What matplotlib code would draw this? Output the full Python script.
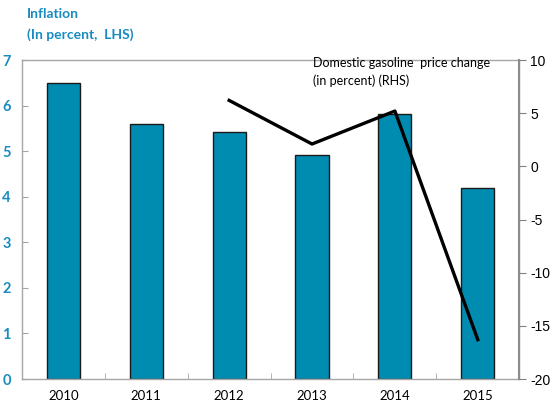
import numpy as np
import matplotlib
matplotlib.use('Agg')
import matplotlib.pyplot as plt

plt.rcParams['axes.unicode_minus'] = False

years = ['2010', '2011', '2012', '2013', '2014', '2015']
inflation = [6.5, 5.6, 5.43, 4.91, 5.82, 4.2]
gas_years = ['2012', '2013', '2014', '2015']
gas_change = [6.2, 2.1, 5.2, -16.3]

teal = '#008BB0'
label_blue = '#1A8BC0'
spine_gray = '#A6A6A6'

fig = plt.figure(figsize=(5.5, 4.09), dpi=100)
ax = fig.add_axes([0.04, 0.0733, 0.904, 0.78])

x = np.arange(len(years))
ax.bar(x, inflation, width=0.4, color=teal, edgecolor='#1a1a1a', linewidth=1.0, zorder=2)
ax.set_xlim(-0.5, len(years) - 0.5)
ax.set_ylim(0, 7)
ax.set_yticks(range(0, 8))
ax.set_xticks(x)
ax.set_xticklabels(years, fontsize=9.5, family='Lato')
ax.set_xticks(x[:-1] + 0.5, minor=True)
ax.tick_params(axis='x', which='major', length=0, pad=8)
ax.tick_params(axis='x', which='minor', direction='in', length=4, color=spine_gray)
ax.tick_params(axis='y', direction='in', length=4, color=spine_gray, pad=8,
               labelcolor=label_blue, labelsize=10.5)
for lbl in ax.get_yticklabels():
    lbl.set_fontweight('bold')
    lbl.set_family('Lato')
for s in ax.spines.values():
    s.set_color(spine_gray)
    s.set_linewidth(1.0)

ax2 = ax.twinx()
gx = [years.index(y) for y in gas_years]
ax2.plot(gx, gas_change, color='black', linewidth=2.4, zorder=3)
ax2.set_ylim(-20, 10)
ax2.set_yticks(range(-20, 11, 5))
ax2.tick_params(axis='y', direction='out', length=5, color='#808080', pad=3,
                labelsize=10)
for lbl in ax2.get_yticklabels():
    lbl.set_family('Liberation Sans')
for s in ax2.spines.values():
    s.set_visible(False)
ax2.spines['right'].set_visible(True)
ax2.spines['right'].set_color('#8c8c8c')
ax2.spines['right'].set_linewidth(1.5)

fig.text(27 / 550, 1 - 14 / 409, 'Inflation', color=label_blue, fontsize=10,
         fontweight='bold', family='Lato', va='center', ha='left')
fig.text(27 / 550, 1 - 35 / 409, '(In percent,  LHS)', color=label_blue, fontsize=10,
         fontweight='bold', family='Lato', va='center', ha='left')
fig.text(313 / 550, 1 - 72 / 409, 'Domestic gasoline  price change\n(in percent) (RHS)',
         color='black', fontsize=9, family='Lato', va='center', ha='left',
         linespacing=1.5)

fig.savefig('out.png', dpi=100)
